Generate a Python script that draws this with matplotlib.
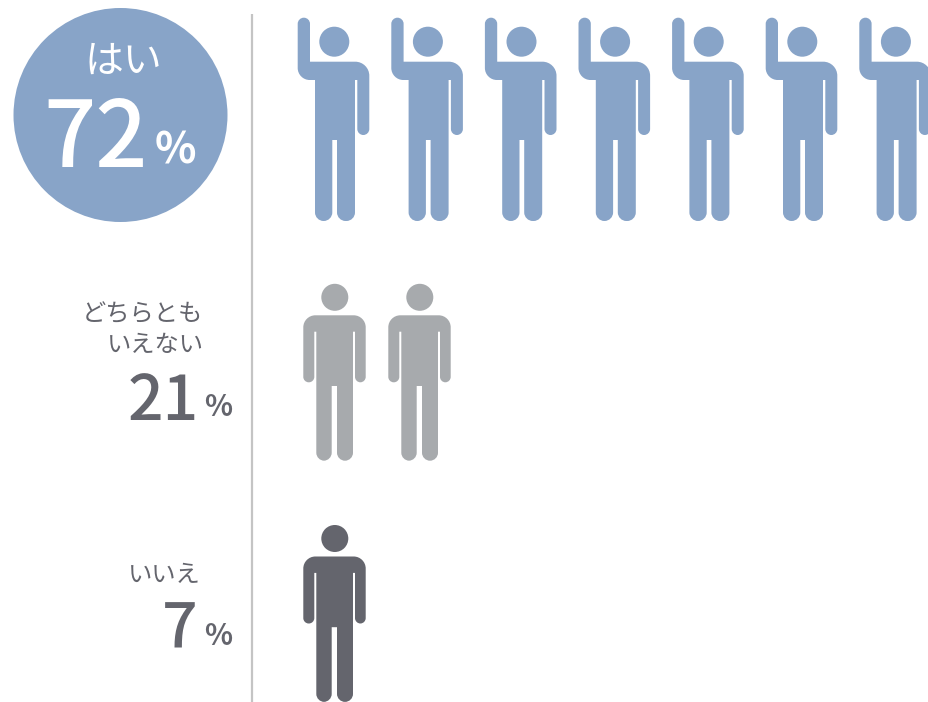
import matplotlib
matplotlib.use('Agg')
import matplotlib.pyplot as plt
from matplotlib.patches import Circle, PathPatch
from matplotlib.path import Path

labels = ['はい', 'どちらとも\nいえない', 'いいえ']
values = [72, 21, 7]
icon_counts = [7, 2, 1]

BLUE = '#88A4C8'
GREY = '#A7AAAD'
DARK = '#64656D'
LINE = '#C4C4C4'

plt.rcParams['font.family'] = ['Noto Sans CJK JP', 'DejaVu Sans']


def rounded(points):
    # points are (x, y, corner radius), closed polygon with rounded corners
    verts, codes = [], []
    n = len(points)
    for i in range(n):
        x, y, r = points[i]
        px, py, _ = points[i - 1]
        nx, ny, _ = points[(i + 1) % n]
        d1 = ((px - x) ** 2 + (py - y) ** 2) ** 0.5
        d2 = ((nx - x) ** 2 + (ny - y) ** 2) ** 0.5
        a = (x + (px - x) * r / d1, y + (py - y) * r / d1)
        b = (x + (nx - x) * r / d2, y + (ny - y) * r / d2)
        verts.append(a)
        codes.append(Path.MOVETO if i == 0 else Path.LINETO)
        if r > 0:
            k = 0.55
            c1 = (a[0] + (x - a[0]) * k, a[1] + (y - a[1]) * k)
            c2 = (b[0] + (x - b[0]) * k, b[1] + (y - b[1]) * k)
            verts += [c1, c2, b]
            codes += [Path.CURVE4] * 3
    verts.append(verts[0])
    codes.append(Path.CLOSEPOLY)
    return Path(verts, codes)


def raised_person(ax, x0, color):
    # figure with the left arm up, x0 is the left edge of the raised hand
    pts = [
        (0, 17.7, 6.1), (12.3, 17.7, 6.1), (12.3, 61.7, 0),
        (71.6, 61.7, 14),
        (71.6, 135, 6), (59.6, 135, 6), (59.6, 80, 0), (57.3, 80, 0),
        (57.3, 221, 8.6), (39.3, 221, 8.6), (39.3, 140, 0), (34.6, 140, 0),
        (34.6, 221, 8.6), (17.3, 221, 8.6), (17.3, 80, 0),
        (0, 80, 12),
    ]
    ax.add_patch(PathPatch(rounded([(x0 + x, y, r) for x, y, r in pts]),
                           fc=color, ec='none'))
    ax.add_patch(Circle((x0 + 36.6, 41.7), 15, fc=color, ec='none'))


def standing_person(ax, x0, y0, color):
    # figure with both arms down, x0 is the left edge, y0 the top of the torso
    pts = [
        (0, 0, 12), (62.4, 0, 12),
        (62.4, 67, 5.4), (51.7, 67, 5.4), (51.7, 16.4, 0), (49.7, 16.4, 0),
        (49.7, 145.4, 8), (33.7, 145.4, 8), (33.7, 70.7, 0), (28.4, 70.7, 0),
        (28.4, 145.4, 8), (13, 145.4, 8), (13, 16.4, 0), (11, 16.4, 0),
        (11, 67, 5.4), (0, 67, 5.4),
    ]
    ax.add_patch(PathPatch(rounded([(x0 + x, y0 + y, r) for x, y, r in pts]),
                           fc=color, ec='none'))
    ax.add_patch(Circle((x0 + 31.5, y0 - 18), 13.5, fc=color, ec='none'))


fig = plt.figure(figsize=(9.29, 7.02), dpi=100)
ax = fig.add_axes([0, 0, 1, 1])
ax.set_xlim(0, 929)
ax.set_ylim(702, 0)
ax.axis('off')

# divider between the labels and the icon rows
ax.plot([252, 252], [14, 702], color=LINE, lw=1.6, solid_capstyle='butt')

# top answer, in a circle
ax.add_patch(Circle((120.5, 115), 107, fc=BLUE, ec='none'))
ax.text(123.5, 73, labels[0], color='white', fontsize=28, ha='center',
        va='baseline', fontweight='regular')
ax.text(148, 167, str(values[0]), color='white', fontsize=66, ha='right',
        va='baseline', fontweight='medium')
ax.text(155, 164, '%', color='white', fontsize=31, ha='left',
        va='baseline', fontweight='bold')

# the two smaller answers
ax.text(203, 321, labels[1].split('\n')[0], color=DARK, fontsize=17.5,
        ha='right', va='baseline', fontweight='regular')
ax.text(204, 352, labels[1].split('\n')[1], color=DARK, fontsize=17.5,
        ha='right', va='baseline', fontweight='regular')
ax.text(199, 420, str(values[1]), color=DARK, fontsize=45, ha='right',
        va='baseline', fontweight='medium')
ax.text(204, 416, '%', color=DARK, fontsize=21, ha='left',
        va='baseline', fontweight='bold')

ax.text(201, 582, labels[2], color=DARK, fontsize=17.5, ha='right',
        va='baseline', fontweight='regular')
ax.text(198, 648, str(values[2]), color=DARK, fontsize=45, ha='right',
        va='baseline', fontweight='medium')
ax.text(204, 645, '%', color=DARK, fontsize=21, ha='left',
        va='baseline', fontweight='bold')

for i in range(icon_counts[0]):
    raised_person(ax, 297.7 + i * 93.6, BLUE)
for i in range(icon_counts[1]):
    standing_person(ax, 303.3 + i * 85, 315.3, GREY)
for i in range(icon_counts[2]):
    standing_person(ax, 303.3 + i * 85, 556.5, DARK)

fig.savefig('out.png', dpi=100)
